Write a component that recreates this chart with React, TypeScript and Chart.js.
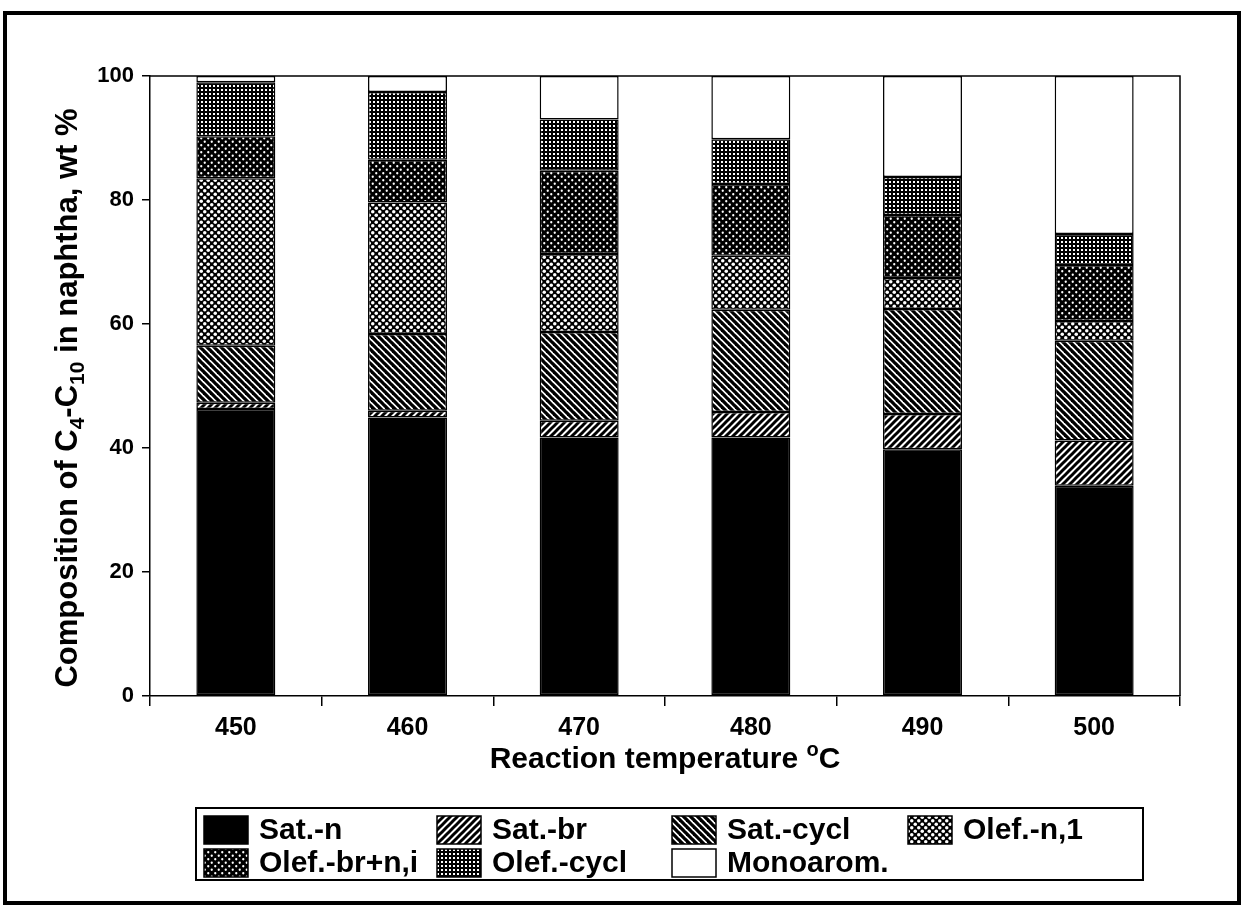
import React, { useEffect, useRef } from 'react';
import { Chart, registerables } from 'chart.js';

Chart.register(...registerables);

const temperatures = ['450', '460', '470', '480', '490', '500'];
const satN = [46.3, 44.9, 41.7, 41.7, 39.8, 33.9];
const satBr = [1.0, 1.1, 2.7, 4.1, 5.7, 7.3];
const satCycl = [9.2, 12.4, 14.3, 16.5, 16.9, 16.1];
const olefN1 = [27.0, 21.2, 12.6, 8.7, 5.0, 3.2];
const olefBrNi = [6.8, 6.9, 13.4, 11.6, 10.2, 9.0];
const olefCycl = [8.7, 10.9, 8.3, 7.2, 6.1, 5.0];
const monoarom = [1.0, 2.6, 7.0, 10.2, 16.3, 25.5];
const seriesLabels = ['Sat.-n', 'Sat.-br', 'Sat.-cycl', 'Olef.-n,1', 'Olef.-br+n,i', 'Olef.-cycl', 'Monoarom.'];
const seriesPatterns = ['solid', 'fwd', 'back', 'dotsLight', 'dotsDark', 'grid', 'white'];
const yTicks = [0, 20, 40, 60, 80, 100];

const FONT = '"Liberation Sans", Arial, Helvetica, sans-serif';

function makeFill(kind: string): string | CanvasPattern {
  if (kind === 'solid') return '#000';
  if (kind === 'white') return '#fff';
  const tile = document.createElement('canvas');
  const s = kind === 'grid' ? 4 : 7;
  tile.width = s;
  tile.height = s;
  const c = tile.getContext('2d')!;
  if (kind === 'fwd' || kind === 'back') {
    c.fillStyle = '#fff';
    c.fillRect(0, 0, s, s);
    c.strokeStyle = '#000';
    c.lineWidth = kind === 'fwd' ? 3.0 : 3.3;
    c.lineCap = 'square';
    for (const o of [-s, 0, s]) {
      c.beginPath();
      if (kind === 'fwd') {
        c.moveTo(o, s);
        c.lineTo(o + s, 0);
      } else {
        c.moveTo(o, 0);
        c.lineTo(o + s, s);
      }
      c.stroke();
    }
  } else if (kind === 'dotsLight' || kind === 'dotsDark') {
    c.fillStyle = '#000';
    c.fillRect(0, 0, s, s);
    c.fillStyle = '#fff';
    const r = kind === 'dotsLight' ? 1.75 : 1.15;
    for (const [x, y] of [[1.75, 1.75], [5.25, 5.25]]) {
      c.beginPath();
      c.arc(x, y, r, 0, Math.PI * 2);
      c.fill();
    }
  } else if (kind === 'grid') {
    c.fillStyle = '#000';
    c.fillRect(0, 0, s, s);
    c.fillStyle = '#fff';
    c.fillRect(1, 1, 2, 2);
  }
  return c.createPattern(tile, 'repeat')!;
}

const decorPlugin = {
  id: 'decor',
  afterDraw(chart: any) {
    const ctx: CanvasRenderingContext2D = chart.ctx;
    const area = chart.chartArea;
    ctx.save();
    // plot frame (top & right)
    ctx.strokeStyle = '#000';
    ctx.lineWidth = 1.5;
    ctx.beginPath();
    ctx.moveTo(area.left, area.top);
    ctx.lineTo(area.right, area.top);
    ctx.lineTo(area.right, area.bottom);
    ctx.stroke();

    // outer page frame
    ctx.lineWidth = 4;
    ctx.strokeRect(5, 13, 1234, 890);

    ctx.fillStyle = '#000';
    // y axis title with subscripts
    const main = `bold 31px ${FONT}`;
    const sub = `bold 21px ${FONT}`;
    const pieces: [string, string, number][] = [
      ['Composition of C', main, 0],
      ['4', sub, 7],
      ['-C', main, 0],
      ['10', sub, 7],
      [' in naphtha, wt %', main, 0],
    ];
    let total = 0;
    for (const [t, f] of pieces) {
      ctx.font = f;
      total += ctx.measureText(t).width;
    }
    ctx.translate(66, 398);
    ctx.rotate(-Math.PI / 2);
    ctx.textBaseline = 'alphabetic';
    ctx.textAlign = 'left';
    let x = -total / 2;
    for (const [t, f, dy] of pieces) {
      ctx.font = f;
      ctx.fillText(t, x, 11 + dy);
      x += ctx.measureText(t).width;
    }
    ctx.setTransform(1, 0, 0, 1, 0, 0);

    // x axis title with superscript
    const xm = `bold 30px ${FONT}`;
    const xs = `bold 20px ${FONT}`;
    const xp: [string, string, number][] = [
      ['Reaction temperature ', xm, 0],
      ['o', xs, -12],
      ['C', xm, 0],
    ];
    let xt = 0;
    for (const [t, f] of xp) {
      ctx.font = f;
      xt += ctx.measureText(t).width;
    }
    let xx = 665 - xt / 2;
    for (const [t, f, dy] of xp) {
      ctx.font = f;
      ctx.fillText(t, xx, 768 + dy);
      xx += ctx.measureText(t).width;
    }

    // legend
    ctx.lineWidth = 2;
    ctx.strokeRect(196, 808, 947, 72);
    const cols = [204, 437, 672, 908];
    const rows = [816, 849];
    const ds = chart.data.datasets;
    ctx.font = `bold 30px ${FONT}`;
    ctx.textBaseline = 'middle';
    for (let i = 0; i < ds.length; i++) {
      const cx = cols[i % 4];
      const cy = rows[Math.floor(i / 4)];
      ctx.fillStyle = ds[i].backgroundColor;
      ctx.fillRect(cx, cy, 44, 28);
      ctx.lineWidth = 1.5;
      ctx.strokeStyle = '#000';
      ctx.strokeRect(cx, cy, 44, 28);
      ctx.fillStyle = '#000';
      ctx.fillText(ds[i].label, cx + 55, cy + 15);
    }
    ctx.restore();
  },
};

export default function App() {
  const ref = useRef<HTMLCanvasElement>(null);
  useEffect(() => {
    const values = [satN, satBr, satCycl, olefN1, olefBrNi, olefCycl, monoarom];
    const datasets = values.map((v, i) => ({
      label: seriesLabels[i],
      data: v,
      backgroundColor: makeFill(seriesPatterns[i]),
      borderColor: '#000',
      borderWidth: 1.5,
      borderSkipped: false,
      barPercentage: 0.46,
      categoryPercentage: 1,
    }));
    const chart = new Chart(ref.current!, {
      type: 'bar',
      data: { labels: temperatures, datasets: datasets as any },
      options: {
        animation: false,
        responsive: false,
        maintainAspectRatio: false,
        devicePixelRatio: 1,
        layout: { padding: { left: 0, top: 76, right: 1242 - 1180, bottom: 0 } },
        plugins: {
          legend: { display: false },
          tooltip: { enabled: false },
          title: { display: false },
        },
        scales: {
          x: {
            stacked: true,
            grid: {
              offset: true,
              drawOnChartArea: false,
              drawTicks: true,
              tickLength: 10,
              color: '#000',
              lineWidth: 1.5,
            },
            border: { display: true, color: '#000', width: 1.5 },
            ticks: { color: '#000', font: { family: FONT, size: 25, weight: 'bold' }, padding: 7 },
            afterFit: (s: any) => {
              s.height = 909 - 696;
            },
          },
          y: {
            stacked: true,
            min: 0,
            max: 100,
            afterBuildTicks: (s: any) => {
              s.ticks = yTicks.map((v) => ({ value: v }));
            },
            grid: {
              drawOnChartArea: false,
              drawTicks: true,
              tickLength: 8,
              color: '#000',
              lineWidth: 1.5,
            },
            border: { display: true, color: '#000', width: 1.5 },
            ticks: { color: '#000', font: { family: FONT, size: 22, weight: 'bold' }, padding: 8 },
            afterFit: (s: any) => {
              s.width = 150;
            },
          },
        },
      },
      plugins: [decorPlugin],
    });
    return () => chart.destroy();
  }, []);
  return (
    <div style={{ position: 'absolute', left: 0, top: 0, width: 1242, height: 909, background: '#fff' }}>
      <canvas ref={ref} width={1242} height={909} style={{ width: 1242, height: 909, display: 'block' }} />
    </div>
  );
}
